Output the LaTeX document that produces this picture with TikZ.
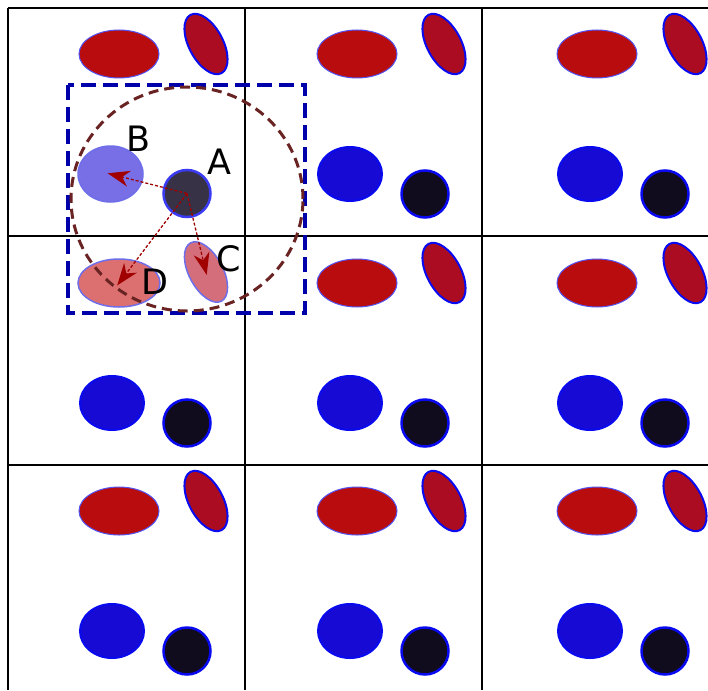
\documentclass[tikz,border=0pt]{standalone}
\usepackage{fontspec}
\setmainfont{DejaVu Sans}
\usetikzlibrary{shapes.geometric,arrows.meta}
\definecolor{redfill}{RGB}{185,12,14}
\definecolor{tiltfill}{RGB}{172,12,34}
\definecolor{bluefill}{RGB}{22,10,212}
\definecolor{darkfill}{RGB}{16,12,30}
\definecolor{edgeblue}{RGB}{10,10,240}
\definecolor{rectblue}{RGB}{0,0,170}
\definecolor{circbrown}{RGB}{105,35,35}
\definecolor{arrred}{RGB}{160,0,0}
\definecolor{afill}{RGB}{55,50,70}
\definecolor{bfill}{RGB}{120,110,230}
\definecolor{cfill}{RGB}{212,110,122}
\definecolor{dfill}{RGB}{220,112,112}
\definecolor{lightedge}{RGB}{110,110,235}
\tikzset{
  redell/.style={ellipse,draw=edgeblue!70,line width=1pt,fill=redfill,minimum width=80pt,minimum height=48pt,inner sep=0pt},
  tiltell/.style={ellipse,draw=edgeblue,line width=2pt,fill=tiltfill,minimum width=34pt,minimum height=66pt,inner sep=0pt,rotate=28},
  blueell/.style={ellipse,draw=edgeblue,line width=2pt,fill=bluefill,minimum width=64pt,minimum height=54pt,inner sep=0pt},
  darkcirc/.style={circle,draw=edgeblue,line width=2.5pt,fill=darkfill,minimum size=47pt,inner sep=0pt},
  gridline/.style={line width=1.8pt,black},
  lbl/.style={font=\fontsize{35}{40}\selectfont,inner sep=0pt},
  arr/.style={arrred,line width=1.3pt,dash pattern=on 3pt off 2pt,-{Stealth[length=22pt,width=16pt,inset=7pt,sep=0pt]},shorten >=-3pt}
}
\begin{document}
\begin{tikzpicture}[x=1pt,y=-1pt]
\useasboundingbox (0,0) rectangle (708,690);
\fill[white] (0,0) rectangle (708,690);
\clip (0,0) rectangle (708,690);
% repeated shapes
\foreach \cx/\tx/\c in {0/206/0,238/444/1,478/685/2}{
  \foreach \ry/\r in {0/0,229/1,457/2}{
    \ifnum\c=0 \ifnum\r=1 \else
      \node[redell] (red\c\r) at (119+\cx,54+\ry) {};
      \node[tiltell] (tilt\c\r) at (\tx,44+\ry) {};
    \fi \else
      \node[redell] (red\c\r) at (119+\cx,54+\ry) {};
      \node[tiltell] (tilt\c\r) at (\tx,44+\ry) {};
    \fi
    \ifnum\c=0 \ifnum\r=0 \else
      \node[blueell] (blue\c\r) at (112+\cx,174+\ry) {};
      \node[darkcirc] (dark\c\r) at (187+\cx,194+\ry) {};
    \fi \else
      \node[blueell] (blue\c\r) at (112+\cx,174+\ry) {};
      \node[darkcirc] (dark\c\r) at (187+\cx,194+\ry) {};
    \fi
  }
}
% highlighted shapes
\node[ellipse,draw=lightedge,line width=1.5pt,fill=bfill,minimum width=65pt,minimum height=56pt,inner sep=0pt] (B) at (110.5,174) {};
\node[circle,draw=edgeblue!80,line width=2.5pt,fill=afill,minimum size=47pt,inner sep=0pt] (A) at (187,193.5) {};
\node[ellipse,draw=lightedge,line width=1.5pt,fill=cfill,minimum width=34pt,minimum height=66pt,inner sep=0pt,rotate=28] (C) at (206,272) {};
\node[ellipse,draw=lightedge,line width=1.5pt,fill=dfill,minimum width=82pt,minimum height=48pt,inner sep=0pt] (D) at (119,283) {};
% grid
\draw[gridline] (8,8) -- (708,8);
\draw[gridline] (8,236) -- (708,236);
\draw[gridline] (8,465) -- (708,465);
\draw[gridline] (8,8) -- (8,690);
\draw[gridline] (245,8) -- (245,690);
\draw[gridline] (482,8) -- (482,690);
% dashed rectangle and circle
\draw[rectblue,line width=3.2pt,dash pattern=on 15pt off 7pt] (68,85) rectangle (305,313);
\draw[circbrown,line width=3pt,dash pattern=on 10pt off 6pt] (187,199) ellipse[x radius=116pt,y radius=112pt];
% arrows
\draw[arr] (A.center) -- (B.center);
\draw[arr] (A.center) -- (C.center);
\draw[arr] (A.center) -- (D.center);
% labels
\node[lbl] (lA) at (219,161.5) {A};
\node[lbl] (lB) at (138.5,138.5) {B};
\node[lbl] (lC) at (228.5,259) {C};
\node[lbl] (lD) at (155,281.5) {D};
\end{tikzpicture}
\end{document}
